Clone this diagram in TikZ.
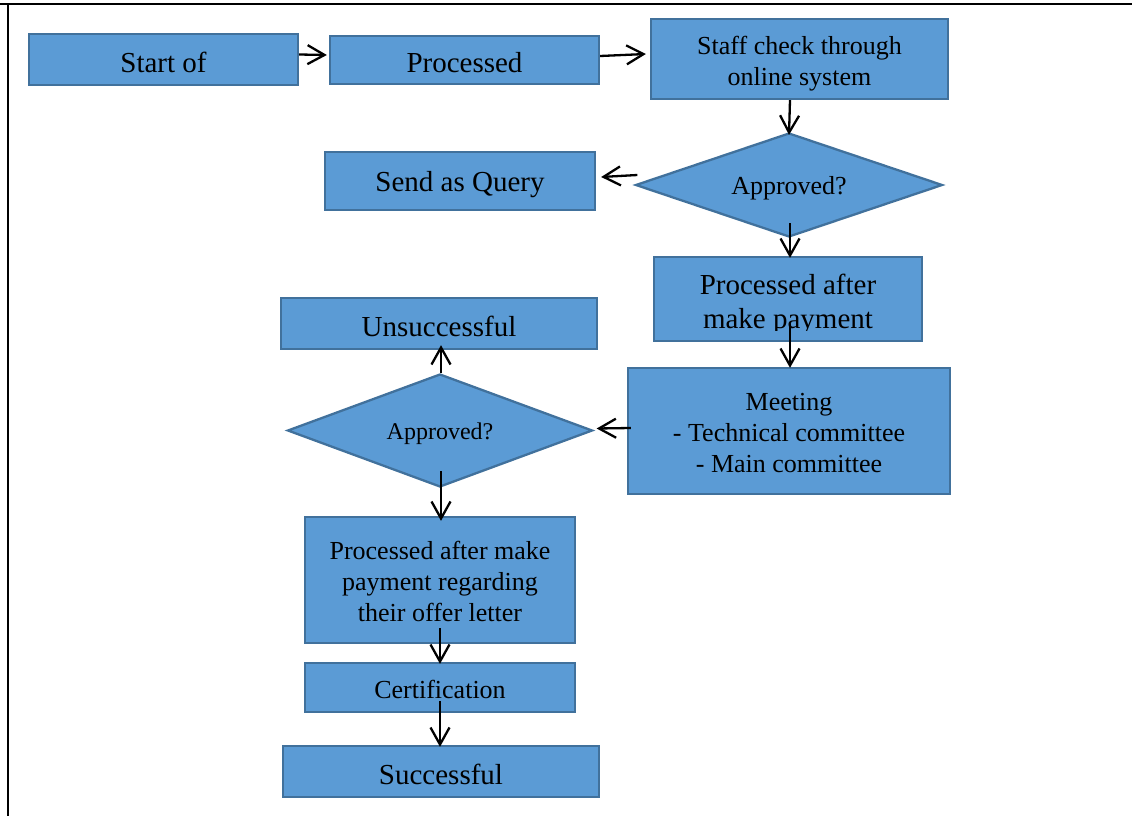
\documentclass[tikz,border=0pt]{standalone}
\usepackage{fontspec}
\setmainfont{Liberation Serif}
\usetikzlibrary{shapes.geometric,arrows.meta}
\definecolor{boxfill}{HTML}{5B9BD5}
\definecolor{boxline}{HTML}{41719C}
\begin{document}
\begin{tikzpicture}[x=1pt,y=-1pt,
  box/.style={draw=boxline,fill=boxfill,line width=2.3pt,inner sep=0pt},
  dec/.style={diamond,draw=boxline,fill=boxfill,line width=2.3pt,inner sep=0pt},
  txt/.style={inner sep=0pt,align=center,text=black},
  big/.style={txt,font=\fontsize{29}{34}\selectfont},
  med/.style={txt,font=\fontsize{26}{31}\selectfont},
  sml/.style={txt,font=\fontsize{24}{28}\selectfont},
  arr/.style={-{Straight Barb[length=17pt,width=19pt,line width=2.3pt]},line width=2.3pt,black}]
\useasboundingbox (0,0) rectangle (1132,816);
\draw[line width=1.8pt] (0,4) -- (1132,4);
\draw[line width=1.6pt] (8,4) -- (8,816);

% boxes
\node[box,minimum width=269pt,minimum height=51pt] (start) at (163.5,59.5) {};
\node[box,minimum width=269pt,minimum height=48pt] (proc) at (464.5,60) {};
\node[box,minimum width=297pt,minimum height=80pt] (staff) at (799.5,59) {};
\node[dec,aspect=2.95,minimum width=307pt,minimum height=104pt] (d1) at (789,185) {};
\node[box,minimum width=270pt,minimum height=58pt] (query) at (460,181) {};
\node[box,minimum width=268pt,minimum height=84pt] (pamp) at (788,299) {};
\node[box,minimum width=322pt,minimum height=126pt] (meet) at (789,431) {};
\node[dec,aspect=2.7,minimum width=305pt,minimum height=113pt] (d2) at (440,430.5) {};
\node[box,minimum width=316pt,minimum height=51pt] (unsucc) at (439,323.5) {};
\node[box,minimum width=270pt,minimum height=126pt] (reg) at (440,580) {};
\node[box,minimum width=270pt,minimum height=49pt] (cert) at (440,687.5) {};
\node[box,minimum width=316pt,minimum height=51pt] (succ) at (441,771.5) {};

% texts
\node[big] (startT) at ([yshift=-3pt]start.center) {Start of};
\node[big] (procT) at ([yshift=-3pt]proc.center) {Processed};
\node[med] (staffT) at ([yshift=-4.5pt]staff.center) {Staff check through\\online system};
\node[med] (d1T) at ([yshift=-3pt]d1.center) {Approved?};
\node[big] (queryT) at ([yshift=-4pt]query.center) {Send as Query};
\begin{scope}
\clip (pamp.north west) rectangle ([yshift=-31pt]pamp.east);
\node[big] (pampT) at ([yshift=-5pt]pamp.center) {Processed after\\make payment};
\end{scope}
\node[med] (meetT) at ([yshift=-2pt]meet.center) {Meeting\\- Technical committee\\- Main committee};
\node[sml] (d2T) at ([yshift=-3.5pt]d2.center) {Approved?};
\node[big] (unsuccT) at ([yshift=-3pt]unsucc.center) {Unsuccessful};
\node[med] (regT) at ([yshift=-1pt]reg.center) {Processed after make\\payment regarding\\their offer letter};
\node[med] (certT) at ([yshift=-2pt]cert.center) {Certification};
\node[big] (succT) at ([yshift=-3pt]succ.center) {Successful};

% connectors
\draw[arr] ([yshift=5pt]start.east) -- ([xshift=-2pt,yshift=5pt]proc.west);
\draw[arr] ([yshift=4pt]proc.east) -- ([xshift=-4pt,yshift=5pt]staff.west);
\draw[arr] ([xshift=-9.5pt]staff.south) -- ([yshift=-3pt]d1.north);
\draw[arr] ([xshift=3pt,yshift=10pt]d1.west) -- ([xshift=5pt,yshift=4pt]query.east);
\draw[arr] ([xshift=1pt,yshift=15pt]d1.south) -- ([xshift=2pt,yshift=-2pt]pamp.north);
\draw[arr] ([xshift=2pt,yshift=18pt]pamp.south) -- ([xshift=1pt,yshift=-1pt]meet.north);
\draw[arr] ([xshift=4pt,yshift=3pt]meet.west) -- ([xshift=3pt,yshift=2pt]d2.east);
\draw[arr] ([xshift=1pt]d2.north) -- ([xshift=2pt,yshift=5pt]unsucc.south);
\draw[arr] ([xshift=1pt,yshift=17pt]d2.south) -- ([xshift=1pt,yshift=-5pt]reg.north);
\draw[arr] ([yshift=16pt]reg.south) -- ([yshift=-2pt]cert.north);
\draw[arr] ([yshift=12pt]cert.south) -- ([xshift=-1pt,yshift=-2pt]succ.north);
\end{tikzpicture}
\end{document}
